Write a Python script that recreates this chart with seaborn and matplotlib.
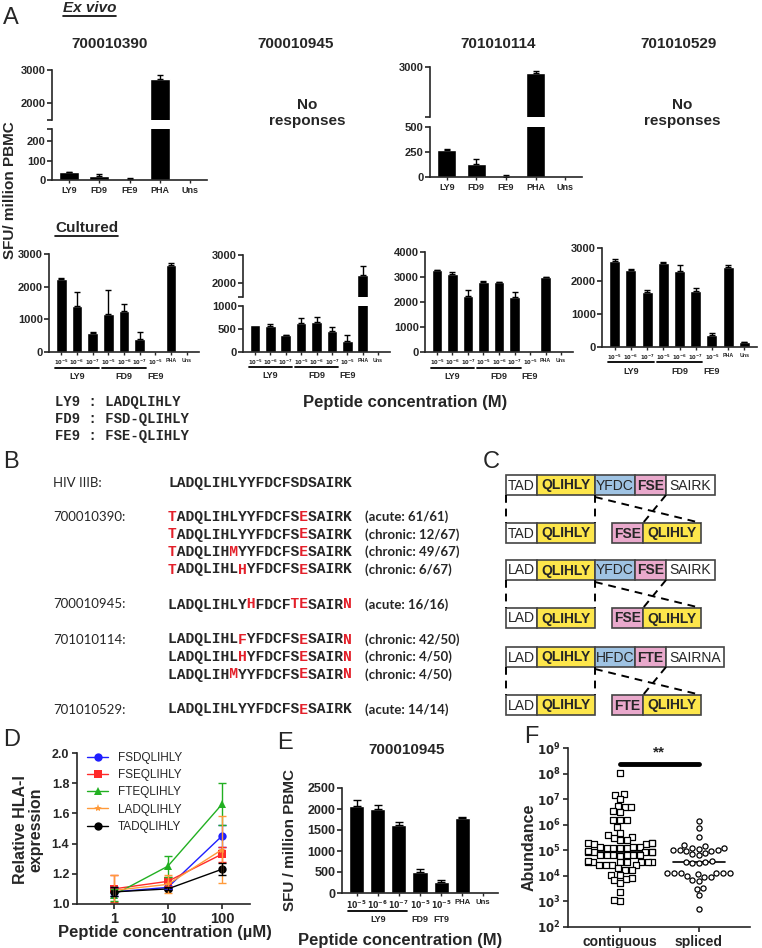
import numpy as np
import pandas as pd
import matplotlib
matplotlib.use('Agg')
import matplotlib.pyplot as plt
import matplotlib.transforms as mtransforms
from matplotlib.patches import Rectangle
from matplotlib.lines import Line2D
import seaborn as sns

sns.set_style('ticks')
plt.rcParams['font.family'] = ['Liberation Sans', 'DejaVu Sans']
plt.rcParams['font.weight'] = 'bold'
plt.rcParams['mathtext.default'] = 'bf'
plt.rcParams['axes.linewidth'] = 1.2

# ---------------- data ----------------
ev_labels = ['LY9', 'FD9', 'FE9', 'PHA', 'Uns']
ev_390 = [40, 18, 5, 2730, 0]
ev_390_err = [2, 12, 4, 120, 0]
ev_114 = [270, 130, 5, 2880, 0]
ev_114_err = [6, 50, 15, 40, 0]

cu_labels = ['$10^{-5}$', '$10^{-6}$', '$10^{-7}$', '$10^{-5}$', '$10^{-6}$',
             '$10^{-7}$', '$10^{-5}$', 'PHA', 'Uns']
cu_groups = [('LY9', 0, 2, True), ('FD9', 3, 5, True), ('FE9', 6, 6, False)]
cu_390 = [2250, 1400, 580, 1150, 1250, 400, 10, 2650, 30]
cu_390_err = [30, 450, 20, 750, 230, 200, 0, 80, 0]
cu_945 = [590, 570, 360, 630, 660, 450, 230, 2280, 0]
cu_945_err = [0, 30, 10, 120, 100, 100, 130, 330, 0]
cu_114 = [3280, 3130, 2250, 2800, 2790, 2200, 0, 2990, 0]
cu_114_err = [20, 80, 250, 50, 20, 200, 0, 20, 0]
cu_529 = [2620, 2320, 1660, 2560, 2300, 1700, 360, 2430, 140]
cu_529_err = [60, 30, 70, 30, 200, 80, 70, 60, 10]

pep_key = ['LY9 : LADQLIHLY', 'FD9 : FSD-QLIHLY', 'FE9 : FSE-QLIHLY']

hiv_ref = 'LADQLIHLYYFDCFSDSAIRK'
b_groups = [
    ('700010390:', ['TADQLIHLYYFDCFSESAIRK', 'TADQLIHLYYFDCFSESAIRK',
                    'TADQLIHMYYFDCFSESAIRK', 'TADQLIHLHYFDCFSESAIRK'],
     ['(acute: 61/61)', '(chronic: 12/67)', '(chronic: 49/67)', '(chronic: 6/67)']),
    ('700010945:', ['LADQLIHLYHFDCFTESAIRN'], ['(acute: 16/16)']),
    ('701010114:', ['LADQLIHLFYFDCFSESAIRN', 'LADQLIHLHYFDCFSESAIRN',
                    'LADQLIHMYYFDCFSESAIRN'],
     ['(chronic: 42/50)', '(chronic: 4/50)', '(chronic: 4/50)']),
    ('701010529:', ['LADQLIHLYYFDCFSESAIRK'], ['(acute: 14/14)']),
]

YEL, BLU, PNK, WHT = '#fde64b', '#9fc3e3', '#e9a9cc', 'white'
c_rows = [
    [('TAD', WHT, False), ('QLIHLY', YEL, True), ('YFDC', BLU, False), ('FSE', PNK, True), ('SAIRK', WHT, False)],
    [('LAD', WHT, False), ('QLIHLY', YEL, True), ('YFDC', BLU, False), ('FSE', PNK, True), ('SAIRK', WHT, False)],
    [('LAD', WHT, False), ('QLIHLY', YEL, True), ('HFDC', BLU, False), ('FTE', PNK, True), ('SAIRNA', WHT, False)],
]

d_conc = [1, 10, 100]
d_names = ['FSDQLIHLY', 'FSEQLIHLY', 'FTEQLIHLY', 'LADQLIHLY', 'TADQLIHLY']
d_vals = {'FSDQLIHLY': [1.08, 1.11, 1.45], 'FSEQLIHLY': [1.10, 1.15, 1.33],
          'FTEQLIHLY': [1.06, 1.25, 1.66], 'LADQLIHLY': [1.09, 1.13, 1.36],
          'TADQLIHLY': [1.08, 1.10, 1.23]}
d_errs = {'FSDQLIHLY': [0.03, 0.01, 0.07], 'FSEQLIHLY': [0.09, 0.03, 0.05],
          'FTEQLIHLY': [0.04, 0.07, 0.14], 'LADQLIHLY': [0.10, 0.06, 0.22],
          'TADQLIHLY': [0.03, 0.01, 0.04]}
d_colors = ['#1f1fff', '#ff2a2a', '#22b022', '#ff9a3a', 'black']
d_markers = ['o', 's', '^', '*', 'o']

e_labels = ['$10^{-5}$', '$10^{-6}$', '$10^{-7}$', '$10^{-5}$', '$10^{-5}$', 'PHA', 'Uns']
e_groups = [('LY9', 0, 2, True), ('FD9', 3, 3, False), ('FT9', 4, 4, False)]
e_vals = [2080, 1990, 1630, 510, 270, 1780, 10]
e_errs = [140, 100, 50, 50, 30, 30, 0]

f_contig_log = [8.04, 7.17, 7.19, 7.0, 6.68, 6.68, 6.75, 6.5, 6.54, 6.19, 6.19, 6.19,
                5.92, 5.69, 5.53, 5.6, 5.4, 5.4, 5.49, 5.24, 5.27, 5.3, 5.24, 5.3,
                5.1, 5.1, 5.12, 5.13, 5.1, 5.13, 5.08, 4.95, 4.95, 4.95, 4.97, 4.95, 4.95,
                4.8, 4.8, 4.82, 4.8, 4.78, 4.8, 4.8, 4.55, 4.55, 4.6, 4.55, 4.55, 4.55,
                4.55, 4.53, 4.42, 4.42, 4.42, 4.42, 4.22, 4.29, 4.22, 4.05, 4.05,
                3.9, 3.83, 3.87, 3.73, 3.37, 3.0, 3.07]
f_spliced_log = [6.16, 5.86, 5.53, 5.2, 5.15, 5.1, 5.1, 5.05, 5.0, 5.0, 4.97, 4.97, 5.0,
                 4.9, 4.85, 4.8, 4.6, 4.56, 4.55, 4.5, 4.5, 4.1, 4.1, 4.1, 4.1, 4.12,
                 4.08, 4.1, 3.98, 3.96, 3.96, 3.8, 3.83, 3.48, 3.53, 3.24, 2.69]

# ---------------- layout helpers ----------------
W, H = 762, 948
fig = plt.figure(figsize=(W / 100, H / 100), dpi=100)


def box(x0, y0, x1, y1):
    return fig.add_axes([x0 / W, 1 - y1 / H, (x1 - x0) / W, (y1 - y0) / H])


def ftext(x, y, s, **kw):
    kw.setdefault('ha', 'left')
    kw.setdefault('va', 'center')
    return fig.text(x / W, 1 - y / H, s, **kw)


def underline(t):
    r = fig.canvas.get_renderer()
    bb = t.get_window_extent(renderer=r).transformed(fig.transFigure.inverted())
    fig.add_artist(Line2D([bb.x0, bb.x1], [bb.y0 - 0.001, bb.y0 - 0.001], color='black', lw=1.2))


def draw_bars(ax, vals, errs, width=0.66, cap=2.5):
    n = len(vals)
    df = pd.DataFrame({'pos': [str(i) for i in range(n)], 'val': vals})
    sns.barplot(df, x='pos', y='val', color='black', saturation=1, width=width,
                errorbar=None, ax=ax)
    idx = [i for i in range(n) if errs[i] > 0]
    ax.errorbar(idx, [vals[i] for i in idx], yerr=[[0] * len(idx), [errs[i] for i in idx]],
                fmt='none', ecolor='black', elinewidth=1, capsize=cap, capthick=1)
    ax.set_xlabel('')
    ax.set_ylabel('')
    sns.despine(ax=ax)
    ax.tick_params(axis='y', labelsize=8, length=3.5, width=1.2, pad=1)
    ax.tick_params(axis='x', length=2.5, width=1.0, pad=1.5)


def set_xlabels(ax, labels, fs):
    ax.set_xticks(range(len(labels)), labels, fontsize=fs)


def groups(ax, spec, line_off, lab_off, fs):
    tr_line = mtransforms.offset_copy(ax.get_xaxis_transform(), fig=fig, y=-line_off, units='points')
    for name, a, b, line in spec:
        if line:
            ax.plot([a - 0.4, b + 0.4], [0, 0], transform=tr_line, color='black', lw=1.3, clip_on=False)
        ax.annotate(name, xy=((a + b) / 2, 0), xycoords=ax.get_xaxis_transform(),
                    xytext=(0, -lab_off), textcoords='offset points', ha='center', va='top',
                    fontsize=fs)


def broken(top, bottom, vals, errs, hi, hi_ticks, lo, lo_ticks, width=0.66):
    axt, axb = box(*top), box(*bottom)
    for ax in (axt, axb):
        draw_bars(ax, vals, errs, width=width)
    axt.set_ylim(hi)
    axb.set_ylim(lo)
    axt.set_yticks([hi[0]] + hi_ticks, [''] + [str(t) for t in hi_ticks])
    lt = lo_ticks + ([lo[1]] if lo[1] not in lo_ticks else [])
    axb.set_yticks(lt, [str(t) if t in lo_ticks else '' for t in lt])
    axt.spines['bottom'].set_visible(False)
    axt.tick_params(axis='x', bottom=False, labelbottom=False)
    return axt, axb


# ---------------- panel A : ex vivo ----------------
ftext(3, 18, 'A', fontsize=17, fontweight='normal')
underline(ftext(63, 8, 'Ex vivo', fontsize=11, style='italic'))
for x, t in [(110, '700010390'), (296, '700010945'), (498, '701010114'), (679, '701010529')]:
    ftext(x, 44, t, fontsize=11, ha='center')
for x in (307, 682):
    ftext(x, 113, 'No\nresponses', fontsize=11, ha='center', linespacing=1.1)

_, b1 = broken((52, 70, 207, 120), (52, 129, 207, 180), ev_390, ev_390_err,
               (1500, 3000), [2000, 3000], (0, 262), [0, 100, 200])
set_xlabels(b1, ev_labels, 6.5)
_, b3 = broken((430, 67, 582, 117), (430, 127, 582, 177), ev_114, ev_114_err,
               (2000, 3000), [3000], (0, 500), [0, 250, 500])
set_xlabels(b3, ev_labels, 6.5)

ftext(10, 190, 'SFU/ million PBMC', fontsize=11, rotation=90, ha='center')

# ---------------- panel A : cultured ----------------
underline(ftext(55, 228, 'Cultured', fontsize=11))

ax = box(49, 254, 199, 352)
draw_bars(ax, cu_390, cu_390_err, width=0.68, cap=2)
ax.set_ylim(0, 3000)
ax.set_yticks([0, 1000, 2000, 3000])
set_xlabels(ax, cu_labels, 3.8)
groups(ax, cu_groups, 11.5, 14.5, 6.5)

_, ax = broken((243, 255, 390, 297), (243, 306, 390, 352), cu_945, cu_945_err,
               (1500, 3000), [2000, 3000], (0, 1000), [0, 500, 1000], width=0.68)
set_xlabels(ax, cu_labels, 3.8)
groups(ax, cu_groups, 11, 14, 6.5)

ax = box(425, 252, 573, 352)
draw_bars(ax, cu_114, cu_114_err, width=0.68, cap=2)
ax.set_ylim(0, 4000)
ax.set_yticks([0, 1000, 2000, 3000, 4000])
set_xlabels(ax, cu_labels, 3.8)
groups(ax, cu_groups, 11.5, 14.5, 6.5)

ax = box(602, 248, 757, 347)
draw_bars(ax, cu_529, cu_529_err, width=0.68, cap=2)
ax.set_ylim(0, 3000)
ax.set_yticks([0, 1000, 2000, 3000])
set_xlabels(ax, cu_labels, 3.8)
groups(ax, cu_groups, 11, 14.5, 6.5)

ftext(405, 402, 'Peptide concentration (M)', fontsize=12, ha='center')
for i, s in enumerate(pep_key):
    ftext(55, 402 + 17 * i, s, fontsize=10, family='Liberation Mono')

# ---------------- panel B ----------------
RED = '#e3202a'
ftext(3, 462, 'B', fontsize=17, fontweight='normal')


def seq_text(y, seq):
    black = ''.join(c if c == r else ' ' for c, r in zip(seq, hiv_ref))
    red = ''.join(c if c != r else ' ' for c, r in zip(seq, hiv_ref))
    ftext(168, y, black, fontsize=10.5, family='Liberation Mono')
    ftext(168, y, red, fontsize=10.5, family='Liberation Mono', color=RED)


ftext(53, 483, 'HIV IIIB:', fontsize=9.5, fontweight='normal', family='Lato')
ftext(168, 483, hiv_ref, fontsize=10.5, family='Liberation Mono')
y = 517
for name, seqs, notes in b_groups:
    ftext(53, y, name, fontsize=9.5, fontweight='normal', family='Lato')
    for s, n in zip(seqs, notes):
        seq_text(y, s)
        ftext(365, y, n, fontsize=9.5, family='Lato')
        y += 17.5
    y += 17.5

# ---------------- panel C ----------------
ftext(483, 462, 'C', fontsize=17, fontweight='normal')
axc = box(480, 460, 762, 720)
axc.set_xlim(480, 762)
axc.set_ylim(720, 460)
axc.axis('off')


def seg_width(s):
    return 4 + 9 * len(s)


def draw_row(x, y, segs, h=20):
    ends = []
    for txt, col, bold in segs:
        w = seg_width(txt)
        axc.add_patch(Rectangle((x, y), w, h, facecolor=col, edgecolor='#444444', lw=1.2))
        axc.text(x + w / 2, y + h / 2 + 0.5, txt, ha='center', va='center', fontsize=10,
                 fontweight='bold' if bold else 'normal')
        x += w
        ends.append(x)
    return ends


dash = dict(color='black', lw=1.4, ls=(0, (4, 3)))
x0 = 506
for r, top in zip(c_rows, [475, 560, 647]):
    ends = draw_row(x0, top, r)
    bot = top + 20
    ntop = top + 48
    draw_row(x0, ntop, r[:2])
    px = 612
    pends = draw_row(px, ntop, [r[3], r[1]])
    axc.plot([x0, x0], [bot, ntop], **dash)
    axc.plot([ends[1], ends[1]], [bot, ntop], **dash)
    axc.plot([ends[1], pends[1]], [bot + 2, ntop], **dash)
    axc.plot([ends[3], pends[0]], [bot, ntop], **dash)

# ---------------- panel D ----------------
ftext(3, 740, 'D', fontsize=17, fontweight='normal')
axd = box(77, 753, 250, 904)
d_df = pd.DataFrame([(n, c, v) for n in d_names for c, v in zip(d_conc, d_vals[n])],
                    columns=['peptide', 'conc', 'val'])
axd.set_xscale('log')
sns.lineplot(d_df, x='conc', y='val', hue='peptide', style='peptide', hue_order=d_names,
             style_order=d_names, palette=d_colors, markers=d_markers, dashes=False,
             markersize=6, markeredgewidth=0, linewidth=1, ax=axd)
for n, c in zip(d_names, d_colors):
    axd.errorbar(d_conc, d_vals[n], yerr=d_errs[n], fmt='none', ecolor=c, elinewidth=1,
                 capsize=3, capthick=1)
axd.set_xlim(0.21, 330)
axd.set_ylim(1.0, 2.0)
axd.set_xticks([1, 10, 100], ['1', '10', '100'], fontsize=10.5)
axd.minorticks_off()
axd.set_yticks([1.0, 1.2, 1.4, 1.6, 1.8, 2.0], ['1.0', '1.2', '1.4', '1.6', '1.8', '2.0'], fontsize=9)
axd.set_xlabel('')
axd.set_ylabel('')
axd.tick_params(length=3.5, width=1.2, pad=2)
sns.despine(ax=axd)
axd.legend(frameon=False, loc='upper left', bbox_to_anchor=(0.03, 1.04),
           prop={'weight': 'normal', 'size': 8.5}, handlelength=1.8, labelspacing=0.45,
           borderaxespad=0)
ftext(28, 830, 'Relative HLA-I\nexpression', fontsize=11.5, rotation=90, ha='center',
      linespacing=1.0)
ftext(165, 933, 'Peptide concentration (µM)', fontsize=12, ha='center')

# ---------------- panel E ----------------
ftext(277, 743, 'E', fontsize=17, fontweight='normal')
ftext(407, 750, '700010945', fontsize=11, ha='center')
axe = box(342, 788, 498, 893)
draw_bars(axe, e_vals, e_errs, width=0.72, cap=3)
axe.set_ylim(0, 2500)
axe.set_yticks([0, 500, 1000, 1500, 2000, 2500])
axe.tick_params(axis='y', labelsize=9)
set_xlabels(axe, e_labels, 5.6)
groups(axe, e_groups, 13, 16, 6.5)
ftext(290, 840, 'SFU / million PBMC', fontsize=11, rotation=90, ha='center')
ftext(400, 940, 'Peptide concentration (M)', fontsize=12, ha='center')

# ---------------- panel F ----------------
ftext(524, 737, 'F', fontsize=17, fontweight='normal')
axf = box(568, 748, 750, 927)
f_df = pd.DataFrame({
    'group': ['contiguous'] * len(f_contig_log) + ['spliced'] * len(f_spliced_log),
    'abund': 10 ** np.array(f_contig_log + f_spliced_log)})
axf.set_yscale('log')
order = ['contiguous', 'spliced']
for g, m in zip(order, ['s', 'o']):
    sns.swarmplot(f_df[f_df.group == g], x='group', y='abund', order=order, marker=m,
                  color='white', edgecolor='black', linewidth=0.9, size=3.7, ax=axf)
for i, g in enumerate(order):
    med = np.median(f_df.abund[f_df.group == g])
    axf.plot([i - 0.33, i + 0.33], [med, med], color='black', lw=1.2)
axf.plot([0, 1], [10 ** 8.37, 10 ** 8.37], color='black', lw=3.5)
axf.text(0.5, 10 ** 8.55, '**', ha='center', va='bottom', fontsize=11)
axf.set_xlim(-0.66, 1.65)
axf.set_ylim(1e2, 1e9)
axf.minorticks_off()
axf.set_yticks([10.0 ** k for k in range(2, 10)], ['$10^{%d}$' % k for k in range(2, 10)], fontsize=8.5)
axf.set_xticks([0, 1], order, fontsize=10)
axf.set_xlabel('')
axf.set_ylabel('')
axf.tick_params(length=3.5, width=1.2, pad=2)
sns.despine(ax=axf)
ftext(529, 847, 'Abundance', fontsize=11.5, rotation=90, ha='center')

fig.savefig('out.png', dpi=100)
